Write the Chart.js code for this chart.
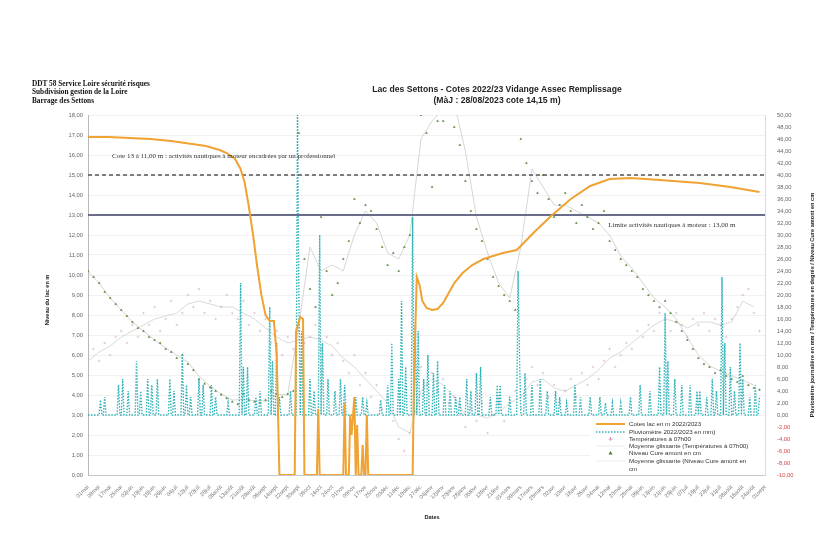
<!DOCTYPE html>
<html>
<head>
<meta charset="utf-8">
<script src="https://cdn.jsdelivr.net/npm/chart.js@4.4.0/dist/chart.umd.min.js"></script>
<style>
  html, body { margin: 0; padding: 0; background: #fff; }
  #wrap { position: relative; width: 830px; height: 552px; overflow: hidden; }
  canvas { position: absolute; left: 0; top: 0; }
  .vline { position: absolute; left: 7px; top: 0; width: 1px; height: 552px; background: #ddd; }
  .hdr { position: absolute; left: 32px; top: 80px; font: bold 7.3px 'Liberation Serif', serif; line-height: 8.3px; color: #111; white-space: nowrap; }
  .ttl { position: absolute; left: 330px; width: 334px; top: 84px; text-align: center; font: bold 8.6px 'Liberation Sans', sans-serif; line-height: 11px; color: #222; }
</style>
</head>
<body>
<div id="wrap">
  <div class="vline"></div>
  <canvas id="chart" width="830" height="552"></canvas>
  <div class="hdr">DDT 58 Service Loire sécurité risques<br>Subdivision gestion de la Loire<br>Barrage des Settons</div>
  <div class="ttl">Lac des Settons - Cotes 2022/23 Vidange Assec Remplissage<br>(MàJ : 28/08/2023 cote 14,15 m)</div>
</div>
<script>
        // day 0 = 01/05/2022, one tick label every 8 days
        const xLabels = ['01mai', '09mai', '17mai', '25mai', '02juin', '10juin', '18juin', '26juin',
            '04juil', '12juil', '20juil', '28juil', '05août', '13août', '21août', '29août',
            '06sept', '14sept', '22sept', '30sept', '08oct', '16oct', '24oct', '01nov',
            '09nov', '17nov', '25nov', '03déc', '11déc', '19déc', '27déc', '04janv',
            '12janv', '20janv', '28janv', '05févr', '13févr', '21févr', '01mars', '09mars',
            '17mars', '25mars', '02avr', '10avr', '18avr', '26avr', '04mai', '12mai',
            '20mai', '28mai', '05juin', '13juin', '21juin', '29juin', '07juil', '15juil',
            '23juil', '31juil', '08août', '16août', '24août', '01sept'];
        const lastDay = 484;

        // Cotes lac en m (left axis)
        const lakeDays = [0, 15, 30, 45, 60, 75, 85, 95, 100, 106, 110, 113, 116, 119, 122, 125, 128, 131, 134, 136, 138,
            149, 150, 153, 155, 156, 165, 166, 167,
            184, 185, 186, 188, 189, 190, 192, 193, 194, 195, 197, 198, 199, 200, 201, 202,
            234, 235, 237, 239, 241, 244, 248, 252, 256, 260, 264, 270, 277, 285, 299, 309, 314, 321, 333, 348,
            362, 376, 391, 412, 441, 463, 484];
        const lakeLevel = [16.9, 16.9, 16.85, 16.8, 16.7, 16.55, 16.45, 16.25, 16.1, 15.8, 15.3, 14.6, 13.4, 12.0, 10.4, 9.0, 8.0, 7.7, 7.7, 6.0, 0,
            0, 7.2, 7.9, 7.8, 0, 0, 3.3, 0,
            0, 3.6, 0, 0, 3.0, 2.0, 3.9, 0, 2.5, 0, 0, 1.5, 0, 0, 3.0, 0,
            0, 5.0, 9.9, 9.5, 8.7, 8.35, 8.25, 8.3, 8.6, 9.1, 9.6, 10.1, 10.5, 10.8, 11.1, 11.25, 11.6, 12.1, 12.9, 13.8,
            14.45, 14.8, 14.85, 14.75, 14.6, 14.4, 14.15];

        // Pluviomètre en mm (right axis), rainy days only, every other day is 0
        const rainDays = [9, 12, 22, 25, 29, 35, 38, 43, 46, 50, 59, 62, 68, 71, 74, 80, 83, 89, 92, 101,
            110, 112, 115, 121, 124, 131, 133, 136, 138, 146, 151, 152, 154, 160, 163, 167, 169, 173, 178, 182,
            185, 193, 198, 201, 211, 216, 219, 224, 226, 229, 234, 236, 238, 242, 245, 249, 252, 257, 261, 265,
            268, 273, 276, 280, 283, 290, 295, 297, 304, 310, 311, 315, 320, 326, 331, 337, 340, 345, 351, 355,
            362, 369, 373, 378, 384, 391, 398, 405, 412, 416, 418, 423, 428, 434, 439, 441, 446, 450, 453, 457,
            459, 463, 466, 470, 472, 477, 481, 484];
        const rainMm = [2.5, 3, 5, 6, 4, 9, 4, 6, 5, 6, 6, 4, 10, 5, 3, 6, 5, 5, 3, 2,
            22, 8, 8, 3, 4, 18, 9, 12, 3, 4, 50, 20, 14, 6, 4, 30, 12, 6, 4, 6,
            5, 3, 3, 2, 2.5, 5, 12, 6, 19, 8, 33, 15, 14, 6, 10, 7, 9, 5, 4, 3,
            3, 6, 4, 7, 8, 3, 5, 5, 3, 24, 10, 7, 5, 6, 4, 4, 3, 2, 5, 3,
            3, 3, 2, 2, 2, 3, 5, 4, 8, 17, 9, 6, 5, 5, 4, 4, 3, 6, 4, 23,
            12, 8, 4, 12, 6, 3, 5, 3];

        // Températures à 07h00, one reading every 4 days
        const tempPoints = [8, 11, 9, 12, 10, 13, 14, 12, 15, 13,
            17, 15, 18, 14, 16, 19, 15, 17, 20, 18,
            21, 17, 19, 16, 18, 20, 17, 16, 19, 15,
            17, 14, 16, 12, 14, 10, 13, 11, 14, 12,
            13, 15, 11, 13, 10, 12, 9, 7, 10, 5,
            7, 3, 5, 1, 3, -1, -4, -6, -3, 6,
            8, 5, 7, 4, 6, 2, 3, 0, -2, 1,
            -1, 2, -3, 0, 2, -1, 3, 4, 1, 6,
            8, 5, 7, 3, 5, 2, 4, 6, 3, 7,
            5, 8, 6, 9, 11, 8, 10, 12, 11, 14,
            13, 15, 14, 17, 16, 14, 17, 15, 13, 16,
            15, 17, 14, 16, 15, 13, 16, 18, 20, 21,
            17, 14];
        // Moyenne glissante températures, every 8 days
        const tempAverage = [9, 10.5, 11.5, 13, 14, 15, 16, 16.5, 17, 18.5,
            19, 18.5, 18, 18, 17, 16, 14.5, 13, 12, 12.5,
            13, 12.5, 11.5, 9.5, 8, 6, 4, 2, -2, -3,
            4, 6, 5, 3, 0, 0, -0.5, 0.5, 2, 3,
            5.5, 6, 4.5, 4, 5, 6, 7.5, 9.5, 10.5, 12,
            13.5, 15, 16, 15.5, 14.5, 15.5, 15.5, 15, 15.5, 19,
            18];

        // Niveau Cure amont en cm, every 4 days
        const cureLevel = [24, 23, 22, 20.5, 19.5, 18.5, 17.5, 16.5, 15.5, 14.5,
            14, 13, 12.5, 12, 11, 10.5, 9.5, 10, 8.5, 7.5,
            6, 5.2, 4.6, 4, 3.4, 2.8, 2.2, 1.8, 3.5, 2.5,
            2.2, 2, 2.5, 4, 3.5, 3, 3.5, 4, 47, 26,
            21, 18, 33, 24, 20, 22, 26, 29, 36, 32,
            35, 34, 31, 28, 25, 27, 24, 28, 30, 52,
            50, 47, 38, 49, 49, 51, 48, 45, 39, 34,
            31, 29, 26, 23, 21.5, 20, 19, 17.5, 46, 42,
            39, 37, 40, 36, 33, 35, 37, 34, 32, 35,
            33, 31, 32, 34, 29, 27.5, 26, 25, 24, 23,
            21, 20, 19, 18, 19, 17, 15.5, 14, 12.5, 11,
            9.5, 8.5, 8, 7, 7.5, 6.5, 6, 5.5, 6.5, 5,
            4.5, 4.2];
        // Moyenne glissante Niveau Cure, every 8 days
        const cureAverage = [24, 22, 19.5, 17.5, 15.5, 14, 12.5, 11.2, 10, 8.8,
            6.5, 4.8, 3.5, 2.5, 2.6, 2.4, 2.3, 3.4, 3.4, 15,
            28, 24, 25, 24, 30, 34, 32, 27, 26, 30,
            46, 49, 51, 52, 44, 33, 27, 22, 19.5, 28,
            41, 38, 35, 35, 34, 33, 32, 30, 26.5, 24.5,
            22, 19.5, 18, 16, 13, 10, 8.2, 7.3, 6.5, 5.8,
            5];

        const limitPro = 15.0;
        const limitMotor = 13.0;

        const colors = {
            lake: '#f0a232',
            rain: '#2fb3b8',
            temp: '#cfa3bf',
            tempAvg: '#c8c8c8',
            cure: '#4a7a28',
            cureAvg: '#c4c4c4',
            dashed: '#555555',
            motor: '#6a6c8c'
        };

        const rainSeries = [];
        for (let d = 0; d <= lastDay; d++) {
            const k = rainDays.indexOf(d);
            rainSeries.push({ x: d, y: k >= 0 ? rainMm[k] : 0 });
        }

        const lakeData = lakeDays.map((d, i) => ({ x: d, y: lakeLevel[i] }));
        const tempData = tempPoints.map((v, i) => ({ x: i * 4, y: v }));
        const tempAvgData = tempAverage.map((v, i) => ({ x: i * 8, y: v }));
        const cureData = cureLevel.map((v, i) => ({ x: i * 4, y: v }));
        const cureAvgData = cureAverage.map((v, i) => ({ x: i * 8, y: v }));

        function fmt(v) {
            return v.toFixed(2).replace('.', ',');
        }

        const decor = {
            id: 'decor',
            beforeDraw(chart) {
                const ctx = chart.ctx;
                ctx.save();
                ctx.fillStyle = '#fff';
                ctx.fillRect(0, 0, chart.width, chart.height);
                ctx.restore();
            },
            afterDatasetsDraw(chart) {
                const ctx = chart.ctx;
                const x = chart.scales.x;
                const y = chart.scales.y;
                ctx.save();
                ctx.fillStyle = '#333';
                ctx.font = '7px "Liberation Serif", serif';
                ctx.textBaseline = 'middle';
                ctx.textAlign = 'left';
                ctx.fillText('Cote 13 à 11,00 m : activités nautiques à moteur encadrées par un professionnel',
                    x.getPixelForValue(17.3), y.getPixelForValue(15.95));
                ctx.fillText('Limite activités nautiques à moteur : 13,00 m',
                    x.getPixelForValue(375), y.getPixelForValue(12.5));
                ctx.restore();
            },
            afterDraw(chart) {
                const ctx = chart.ctx;
                const area = chart.chartArea;
                ctx.save();

                // axis titles
                ctx.fillStyle = '#222';
                ctx.font = 'bold 5.6px "Liberation Sans", sans-serif';
                ctx.textAlign = 'center';
                ctx.textBaseline = 'middle';
                ctx.save();
                ctx.translate(47, 300);
                ctx.rotate(-Math.PI / 2);
                ctx.fillText('Niveau du lac en m', 0, 0);
                ctx.restore();
                ctx.save();
                ctx.translate(812, 305);
                ctx.rotate(-Math.PI / 2);
                ctx.fillText('Pluviomètre journalière en mm / Températures en degrés / Niveau Cure amont en cm', 0, 0);
                ctx.restore();
                ctx.fillText('Dates', 432, 517);

                // legend
                const lx = 596, tx = 629;
                ctx.fillStyle = '#fff';
                ctx.fillRect(590, 419, area.right - 591, 55);
                ctx.font = '6.2px "Liberation Sans", sans-serif';
                ctx.textAlign = 'left';
                const rows = [424, 432, 439, 446, 453, 461];

                ctx.strokeStyle = colors.lake;
                ctx.lineWidth = 2;
                ctx.beginPath(); ctx.moveTo(lx, rows[0]); ctx.lineTo(lx + 29, rows[0]); ctx.stroke();

                ctx.strokeStyle = colors.rain;
                ctx.lineWidth = 1.4;
                ctx.setLineDash([1.5, 1.5]);
                ctx.beginPath(); ctx.moveTo(lx, rows[1]); ctx.lineTo(lx + 29, rows[1]); ctx.stroke();
                ctx.setLineDash([]);

                ctx.strokeStyle = '#d27fb0';
                ctx.lineWidth = 0.8;
                ctx.beginPath();
                ctx.moveTo(lx + 12.5, rows[2]); ctx.lineTo(lx + 16.5, rows[2]);
                ctx.moveTo(lx + 14.5, rows[2] - 2); ctx.lineTo(lx + 14.5, rows[2] + 2);
                ctx.stroke();

                ctx.strokeStyle = '#e2e2e2';
                ctx.lineWidth = 0.7;
                ctx.beginPath(); ctx.moveTo(lx, rows[3]); ctx.lineTo(lx + 29, rows[3]); ctx.stroke();
                ctx.beginPath(); ctx.moveTo(lx, rows[5]); ctx.lineTo(lx + 29, rows[5]); ctx.stroke();

                ctx.fillStyle = colors.cure;
                ctx.beginPath();
                ctx.moveTo(lx + 14.5, rows[4] - 2);
                ctx.lineTo(lx + 16.5, rows[4] + 1.5);
                ctx.lineTo(lx + 12.5, rows[4] + 1.5);
                ctx.closePath();
                ctx.fill();

                ctx.fillStyle = '#333';
                const texts = ['Cotes lac en m 2022/2023', 'Pluviomètre 2022/2023 en mm)', 'Températures à 07h00',
                    'Moyenne glissante (Températures à 07h00)', 'Niveau Cure amont en cm',
                    'Moyenne glissante (Niveau Cure amont en'];
                texts.forEach((t, i) => ctx.fillText(t, tx, rows[i]));
                ctx.fillText('cm', tx, rows[5] + 8);
                ctx.restore();
            }
        };

        const chart = new Chart(document.getElementById('chart'), {
            type: 'line',
            data: {
                datasets: [
                    {
                        label: 'Cotes lac en m 2022/2023',
                        data: lakeData,
                        yAxisID: 'y',
                        borderColor: colors.lake,
                        borderWidth: 2,
                        pointRadius: 0
                    },
                    {
                        label: 'Limite pro',
                        data: [{ x: 0, y: limitPro }, { x: 488, y: limitPro }],
                        yAxisID: 'y',
                        borderColor: colors.dashed,
                        borderWidth: 1.5,
                        borderDash: [4, 3],
                        pointRadius: 0
                    },
                    {
                        label: 'Limite moteur',
                        data: [{ x: 0, y: limitMotor }, { x: 488, y: limitMotor }],
                        yAxisID: 'y',
                        borderColor: colors.motor,
                        borderWidth: 2,
                        pointRadius: 0
                    },
                    {
                        label: 'Pluviomètre 2022/2023 en mm)',
                        data: rainSeries,
                        yAxisID: 'y2',
                        borderColor: colors.rain,
                        borderWidth: 1.4,
                        borderDash: [1.5, 1.5],
                        pointRadius: 0
                    },
                    {
                        label: 'Niveau Cure amont en cm',
                        data: cureData,
                        yAxisID: 'y2',
                        showLine: false,
                        pointStyle: 'triangle',
                        pointRadius: 1.1,
                        backgroundColor: colors.cure,
                        borderColor: colors.cure,
                        borderWidth: 0.4
                    },
                    {
                        label: 'Températures à 07h00',
                        data: tempData,
                        yAxisID: 'y2',
                        showLine: false,
                        pointStyle: 'cross',
                        pointRadius: 1.3,
                        borderColor: colors.temp,
                        borderWidth: 0.5
                    },
                    {
                        label: 'Moyenne glissante (Niveau Cure amont en cm',
                        data: cureAvgData,
                        yAxisID: 'y2',
                        borderColor: colors.cureAvg,
                        borderWidth: 0.7,
                        pointRadius: 0
                    },
                    {
                        label: 'Moyenne glissante (Températures à 07h00)',
                        data: tempAvgData,
                        yAxisID: 'y2',
                        borderColor: colors.tempAvg,
                        borderWidth: 0.7,
                        pointRadius: 0
                    }
                ]
            },
            options: {
                responsive: false,
                animation: false,
                layout: { padding: { top: 115, bottom: 47, left: 0, right: 0 } },
                elements: { line: { tension: 0 } },
                plugins: {
                    legend: { display: false },
                    tooltip: { enabled: false }
                },
                scales: {
                    x: {
                        type: 'linear',
                        min: 0,
                        max: 488,
                        afterBuildTicks: s => { s.ticks = xLabels.map((l, i) => ({ value: i * 8 })); },
                        afterFit: s => { s.height = 30; },
                        grid: { display: false },
                        border: { color: '#c8c8c8' },
                        ticks: {
                            autoSkip: false,
                            minRotation: 45,
                            maxRotation: 45,
                            padding: 1,
                            color: '#777',
                            font: { family: 'Liberation Sans', size: 5.6 },
                            callback: v => xLabels[Math.round(v / 8)]
                        }
                    },
                    y: {
                        position: 'left',
                        min: 0,
                        max: 18,
                        afterFit: s => { s.width = 88; },
                        grid: { color: '#e8e8e8', lineWidth: 0.6, drawTicks: false },
                        border: { color: '#b8b8b8' },
                        ticks: {
                            stepSize: 1,
                            padding: 5,
                            color: '#666',
                            font: { family: 'Liberation Sans', size: 5.8 },
                            callback: v => fmt(v)
                        }
                    },
                    y2: {
                        position: 'right',
                        min: -10,
                        max: 50,
                        afterFit: s => { s.width = 65; },
                        grid: { display: false },
                        border: { color: '#dcdcdc' },
                        ticks: {
                            stepSize: 2,
                            padding: 4,
                            color: ctx => ctx.tick.value < 0 ? '#d04848' : '#666',
                            font: { family: 'Liberation Sans', size: 5.8 },
                            callback: v => fmt(v)
                        }
                    }
                }
            },
            plugins: [decor]
        });
</script>
</body>
</html>
